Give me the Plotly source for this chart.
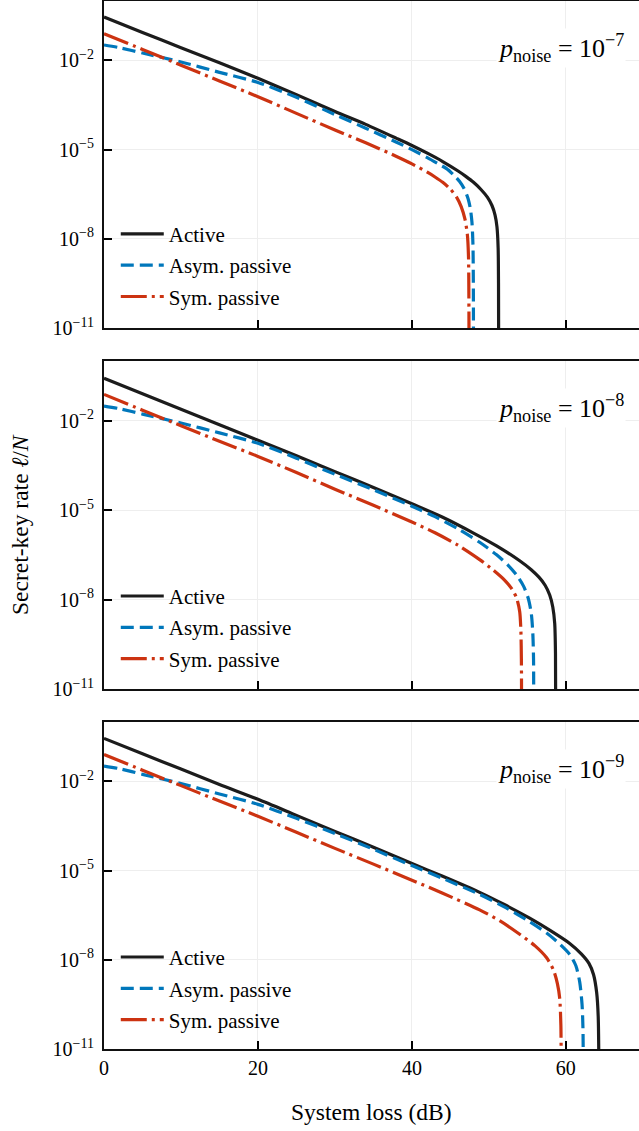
import plotly.graph_objects as go

# System loss (dB) sample points and log10 secret-key rate for each scheme,
# one set per noise level.
loss_active_7 = [0, 5, 10, 15, 20, 25, 30, 34, 38, 40, 42, 44, 46, 47, 48, 49, 49.8, 50.4, 50.8, 51.05, 51.2, 51.25, 51.27]
rate_active_7 = [-0.54, -1.06, -1.57, -2.08, -2.60, -3.15, -3.72, -4.15, -4.62, -4.86, -5.12, -5.40, -5.72, -5.90, -6.10, -6.35, -6.60, -6.88, -7.20, -7.60, -8.3, -9.5, -12]
loss_asym_7 = [0, 2, 5, 10, 15, 20, 25, 30, 34, 38, 40, 42, 43.5, 44.5, 45.5, 46.2, 46.8, 47.3, 47.6, 47.8, 47.93, 47.98, 48.0]
rate_asym_7 = [-1.48, -1.57, -1.75, -2.05, -2.40, -2.74, -3.24, -3.82, -4.28, -4.75, -5.00, -5.27, -5.49, -5.64, -5.87, -6.07, -6.32, -6.65, -7.00, -7.45, -8.2, -9.5, -12]
loss_sym_7 = [0, 5, 10, 15, 20, 25, 30, 34, 38, 40, 42, 43, 44, 45, 45.8, 46.4, 46.9, 47.2, 47.35, 47.4, 47.42]
rate_sym_7 = [-1.10, -1.63, -2.16, -2.69, -3.22, -3.78, -4.34, -4.77, -5.23, -5.48, -5.76, -5.92, -6.10, -6.33, -6.60, -6.92, -7.35, -7.85, -8.6, -10, -12]

loss_active_8 = [0, 5, 10, 15, 20, 25, 30, 35, 40, 44, 48, 51, 54, 55.5, 56.5, 57.3, 57.9, 58.3, 58.55, 58.65, 58.68]
rate_active_8 = [-0.58, -1.10, -1.62, -2.14, -2.66, -3.18, -3.71, -4.24, -4.79, -5.24, -5.77, -6.20, -6.70, -7.00, -7.25, -7.52, -7.85, -8.25, -8.8, -9.8, -12]
loss_asym_8 = [0, 2, 5, 10, 15, 20, 25, 30, 35, 40, 43, 46, 48.8, 51, 52.5, 53.6, 54.5, 55.1, 55.5, 55.7, 55.8, 55.82]
rate_asym_8 = [-1.51, -1.60, -1.78, -2.08, -2.41, -2.76, -3.26, -3.80, -4.32, -4.87, -5.22, -5.63, -6.08, -6.50, -6.85, -7.18, -7.55, -7.95, -8.45, -9.1, -10, -12]
loss_sym_8 = [0, 5, 10, 15, 20, 25, 30, 35, 40, 43, 46, 48.8, 50.5, 52, 53, 53.6, 54.0, 54.15, 54.22, 54.25]
rate_sym_8 = [-1.12, -1.65, -2.17, -2.69, -3.20, -3.74, -4.30, -4.84, -5.40, -5.76, -6.18, -6.66, -7.00, -7.34, -7.65, -7.95, -8.40, -9.0, -10, -12]

loss_active_9 = [0, 5, 10, 15, 20, 25, 30, 35, 40, 44, 48.8, 52, 55.3, 58, 60.5, 62, 63, 63.6, 64.0, 64.2, 64.3]
rate_active_9 = [-0.55, -1.07, -1.58, -2.10, -2.60, -3.14, -3.68, -4.21, -4.76, -5.19, -5.73, -6.14, -6.60, -7.02, -7.45, -7.80, -8.12, -8.5, -9.1, -9.9, -12]
loss_asym_9 = [0, 2, 5, 10, 15, 20, 25, 30, 35, 40, 44, 48.8, 52, 55.3, 57.5, 59.2, 60.5, 61.3, 61.8, 62.1, 62.22, 62.27]
rate_asym_9 = [-1.48, -1.57, -1.76, -2.07, -2.42, -2.77, -3.24, -3.75, -4.28, -4.83, -5.26, -5.80, -6.22, -6.72, -7.10, -7.47, -7.82, -8.20, -8.75, -9.5, -10.3, -12]
loss_sym_9 = [0, 5, 10, 15, 20, 25, 30, 35, 40, 44, 48.8, 51.5, 54, 56, 57.5, 58.4, 58.9, 59.2, 59.35, 59.4]
rate_sym_9 = [-1.09, -1.62, -2.14, -2.66, -3.17, -3.71, -4.25, -4.78, -5.32, -5.76, -6.32, -6.70, -7.14, -7.53, -7.93, -8.35, -8.8, -9.3, -10.2, -12]

panel_labels = ["10<sup>−7</sup>", "10<sup>−8</sup>", "10<sup>−9</sup>"]
series_names = ["Active", "Asym. passive", "Sym. passive"]
x_ticks = [0, 20, 40, 60]
y_tick_exps = [-2, -5, -8, -11]

panels = [
    [(loss_active_7, rate_active_7), (loss_asym_7, rate_asym_7), (loss_sym_7, rate_sym_7)],
    [(loss_active_8, rate_active_8), (loss_asym_8, rate_asym_8), (loss_sym_8, rate_sym_8)],
    [(loss_active_9, rate_active_9), (loss_asym_9, rate_asym_9), (loss_sym_9, rate_sym_9)],
]

colors = ["#1c1c1c", "#0077BB", "#CC3311"]
dashes = ["solid", "13px,6px", "26px,5px,3px,5px"]
FONT = "Liberation Serif"

# vertical domains of the three stacked panels
domains = [[0.688, 1.0], [0.3435, 0.6565], [0.0, 0.312]]
legend_tops = [0.797, 0.4515, 0.107]

fig = go.Figure()
for i, series in enumerate(panels):
    sfx = "" if i == 0 else str(i + 1)
    leg = "legend" + sfx
    for j, (xs, ls) in enumerate(series):
        fig.add_trace(go.Scatter(
            x=xs, y=[10 ** v for v in ls], mode="lines",
            name=series_names[j], legend=leg, legendgroup=f"g{i}{j}",
            line=dict(color=colors[j], width=3.2, dash=dashes[j],
                      shape="spline", smoothing=0.7),
            xaxis="x" + sfx, yaxis="y" + sfx, showlegend=True,
        ))

layout = dict(
    width=639, height=1131,
    margin=dict(l=104, r=0, t=1, b=82),
    paper_bgcolor="white", plot_bgcolor="white",
    font=dict(family=FONT, size=20, color="black"),
    annotations=[],
)

for i in range(3):
    sfx = "" if i == 0 else str(i + 1)
    layout["xaxis" + sfx] = dict(
        domain=[0, 1], range=[0, 69.5], anchor="y" + sfx,
        tickvals=x_ticks, ticks="inside", ticklen=8, tickwidth=1.5, tickcolor="black",
        showticklabels=(i == 2), tickfont=dict(family=FONT, size=20),
        showgrid=True, gridcolor="#eeeeee", gridwidth=1,
        showline=True, linecolor="#111", linewidth=2, mirror=True,
        zeroline=False, matches=None if i == 0 else "x",
    )
    layout["yaxis" + sfx] = dict(
        domain=domains[i], type="log", range=[-11, 0], anchor="x" + sfx,
        tickvals=[10 ** e for e in y_tick_exps],
        ticktext=[f"10<sup>−{-e}</sup>" for e in y_tick_exps],
        ticks="inside", ticklen=8, tickwidth=1.5, tickcolor="black",
        tickfont=dict(family=FONT, size=20), ticklabelstandoff=4,
        showgrid=True, gridcolor="#eeeeee", gridwidth=1,
        showline=True, linecolor="#111", linewidth=2, mirror=False,
        zeroline=False,
    )
    layout["legend" + sfx] = dict(
        x=0.022, y=legend_tops[i], xanchor="left", yanchor="top",
        xref="paper", yref="paper",
        bgcolor="rgba(255,255,255,0)", borderwidth=0,
        font=dict(family=FONT, size=21), itemwidth=43,
        traceorder="grouped", tracegroupgap=1,
    )
    layout["annotations"].append(dict(
        xref="x" + sfx + " domain", yref="y" + sfx + " domain",
        x=0.976, y=0.857, xanchor="right", yanchor="middle",
        text="<i>p</i><sub>noise</sub> = " + panel_labels[i],
        showarrow=False, bgcolor="white", font=dict(family=FONT, size=26),
    ))

layout["annotations"].append(dict(
    xref="paper", yref="paper", x=0.5, y=-0.06, xanchor="center", yanchor="middle",
    text="System loss (dB)", showarrow=False, font=dict(family=FONT, size=23.5),
))
layout["annotations"].append(dict(
    xref="paper", yref="paper", x=-0.157, y=0.5, xanchor="center", yanchor="middle",
    text="Secret-key rate <i>ℓ</i>/<i>N</i>", textangle=-90, showarrow=False,
    font=dict(family=FONT, size=23.5),
))

fig.update_layout(**layout)
fig.write_html("out.html")
